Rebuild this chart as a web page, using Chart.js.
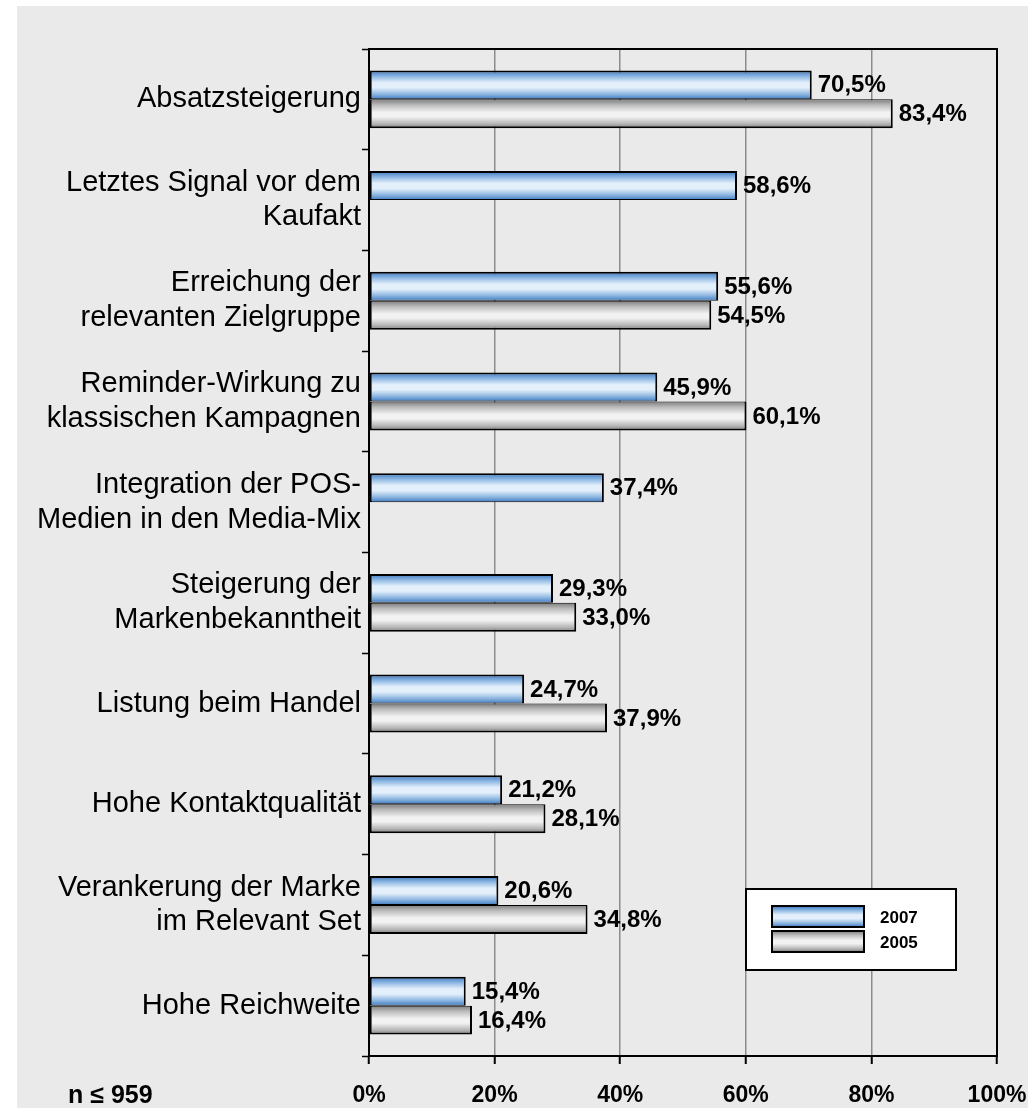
<!DOCTYPE html>
<html lang="de">
<head>
<meta charset="UTF-8">
<title>Ziele beim Einsatz von POS-Medien</title>
<script src="https://cdn.jsdelivr.net/npm/chart.js@4.4.0/dist/chart.umd.min.js"></script>
<style>
  html, body { margin: 0; padding: 0; background: #fff; }
  #wrap { width: 1028px; height: 1108px; }
</style>
</head>
<body>
<div id="wrap"><canvas id="chart" width="1028" height="1108"></canvas></div>
<script>
// Data
const categories = [
  'Absatzsteigerung',
  ['Letztes Signal vor dem', 'Kaufakt'],
  ['Erreichung der', 'relevanten Zielgruppe'],
  ['Reminder-Wirkung zu', 'klassischen Kampagnen'],
  ['Integration der POS-', 'Medien in den Media-Mix'],
  ['Steigerung der', 'Markenbekanntheit'],
  'Listung beim Handel',
  'Hohe Kontaktqualität',
  ['Verankerung der Marke', 'im Relevant Set'],
  'Hohe Reichweite'
];
const values2007 = [70.5, 58.6, 55.6, 45.9, 37.4, 29.3, 24.7, 21.2, 20.6, 15.4];
const values2005 = [83.4, null, 54.5, 60.1, null, 33.0, 37.9, 28.1, 34.8, 16.4];
const seriesNames = ['2007', '2005'];
const xTicks = [0, 20, 40, 60, 80, 100];
const sampleNote = 'n ≤ 959';

// Look
const FONT = '"Liberation Sans", Arial, Helvetica, sans-serif';
const BAR_SHARE = 0.575;
const blueStops = [[0, '#3a76bf'], [0.2, '#8ab5e2'], [0.42, '#e3effa'], [0.6, '#e3effa'], [0.82, '#8db6e0'], [1, '#3f7bc2']];
const grayStops = [[0, '#7c7c7c'], [0.2, '#bcbcbc'], [0.45, '#f2f2f2'], [0.6, '#f2f2f2'], [0.85, '#b4b4b4'], [1, '#7a7a7a']];

Chart.defaults.font.family = FONT;

function gradient(ctx, top, height, stops) {
  const g = ctx.createLinearGradient(0, top, 0, top + height);
  stops.forEach(s => g.addColorStop(s[0], s[1]));
  return g;
}

// per-bar vertical gradient, worked out from the category scale
function barFill(stops) {
  return (c) => {
    const chart = c.chart;
    const ys = chart.scales && chart.scales.y;
    if (c.type !== 'data' || !ys) return stops[2][1];
    const step = ys.getPixelForValue(1) - ys.getPixelForValue(0);
    const h = step * BAR_SHARE / 2;
    const top = ys.getPixelForValue(c.dataIndex) - h + c.datasetIndex * h;
    if (!isFinite(top) || !isFinite(h) || h <= 0) return stops[2][1];
    return gradient(chart.ctx, top, h, stops);
  };
}

const fmt = v => v.toFixed(1).replace('.', ',') + '%';

const chartDecor = {
  id: 'chartDecor',
  beforeDraw(chart) {
    const ctx = chart.ctx;
    ctx.save();
    ctx.fillStyle = '#fff';
    ctx.fillRect(0, 0, chart.width, chart.height);
    ctx.fillStyle = '#eaeaea';
    ctx.fillRect(17, 6, chart.width - 17, chart.height - 6);
    ctx.restore();
  },
  beforeDatasetsDraw(chart) {
    const ctx = chart.ctx, a = chart.chartArea;
    ctx.save();
    ctx.strokeStyle = '#000';
    ctx.lineWidth = 2;
    ctx.strokeRect(a.left, a.top, a.right - a.left, a.bottom - a.top);
    ctx.restore();
  },
  afterDatasetsDraw(chart) {
    const ctx = chart.ctx, a = chart.chartArea;
    ctx.save();
    // value labels
    ctx.fillStyle = '#000';
    ctx.font = 'bold 24px ' + FONT;
    ctx.textAlign = 'left';
    ctx.textBaseline = 'middle';
    chart.data.datasets.forEach((ds, di) => {
      chart.getDatasetMeta(di).data.forEach((bar, i) => {
        const v = ds.data[i];
        if (v == null) return;
        ctx.fillText(fmt(v), bar.x + 6, bar.y + 1);
      });
    });

    // legend box
    const bw = 210, bh = 81;
    const bx = a.right - 41 - bw, by = a.bottom - 86 - bh;
    ctx.fillStyle = '#fff';
    ctx.fillRect(bx, by, bw, bh);
    ctx.strokeStyle = '#000';
    ctx.lineWidth = 2;
    ctx.strokeRect(bx, by, bw, bh);
    const swatches = [blueStops, grayStops];
    ctx.font = 'bold 17px ' + FONT;
    chart.data.datasets.forEach((ds, di) => {
      const sy = by + 17 + di * 25;
      ctx.fillStyle = gradient(ctx, sy, 21, swatches[di]);
      ctx.fillRect(bx + 26, sy, 92, 21);
      ctx.lineWidth = 2;
      ctx.strokeStyle = '#000';
      ctx.strokeRect(bx + 26, sy, 92, 21);
      ctx.fillStyle = '#000';
      ctx.fillText(ds.label, bx + 134, sy + 12);
    });

    // sample size
    ctx.font = 'bold 25px ' + FONT;
    ctx.textBaseline = 'alphabetic';
    ctx.fillText(sampleNote, 68, 1103);
    ctx.restore();
  }
};

new Chart(document.getElementById('chart'), {
  type: 'bar',
  data: {
    labels: categories,
    datasets: [
      {
        label: seriesNames[0],
        data: values2007,
        backgroundColor: barFill(blueStops),
        borderColor: '#000',
        borderWidth: { top: 2, right: 2, bottom: 1, left: 2 },
        borderSkipped: false
      },
      {
        label: seriesNames[1],
        data: values2005,
        backgroundColor: barFill(grayStops),
        borderColor: '#000',
        borderWidth: { top: 1, right: 2, bottom: 2, left: 2 },
        borderSkipped: false
      }
    ]
  },
  options: {
    indexAxis: 'y',
    responsive: false,
    animation: false,
    events: [],
    datasets: { bar: { categoryPercentage: BAR_SHARE, barPercentage: 1 } },
    layout: { padding: { top: 49, right: 31, left: 0, bottom: 0 } },
    plugins: { legend: { display: false }, tooltip: { enabled: false } },
    scales: {
      x: {
        min: xTicks[0],
        max: xTicks[xTicks.length - 1],
        afterBuildTicks(s) { s.ticks = xTicks.map(v => ({ value: v })); },
        ticks: {
          callback: v => v + '%',
          color: '#000',
          font: { size: 23, weight: 'bold' },
          padding: 18,
          maxRotation: 0
        },
        grid: {
          color: c => (c.tick && (c.tick.value === 0 || c.tick.value === 100)) ? 'rgba(0,0,0,0)' : '#8c8c8c',
          lineWidth: 1.5,
          tickColor: '#000',
          tickLength: 8,
          tickWidth: 2
        },
        border: { display: false },
        afterFit(s) { s.height = 52; s.paddingLeft = 0; s.paddingRight = 0; }
      },
      y: {
        ticks: { color: '#000', font: { size: 29 }, padding: 1, autoSkip: false },
        grid: { drawOnChartArea: false, tickColor: '#000', tickLength: 7, tickWidth: 1.5, offset: true },
        border: { display: false },
        afterFit(s) { s.width = 369; s.paddingTop = 0; s.paddingBottom = 0; }
      }
    }
  },
  plugins: [chartDecor]
});
</script>
</body>
</html>
